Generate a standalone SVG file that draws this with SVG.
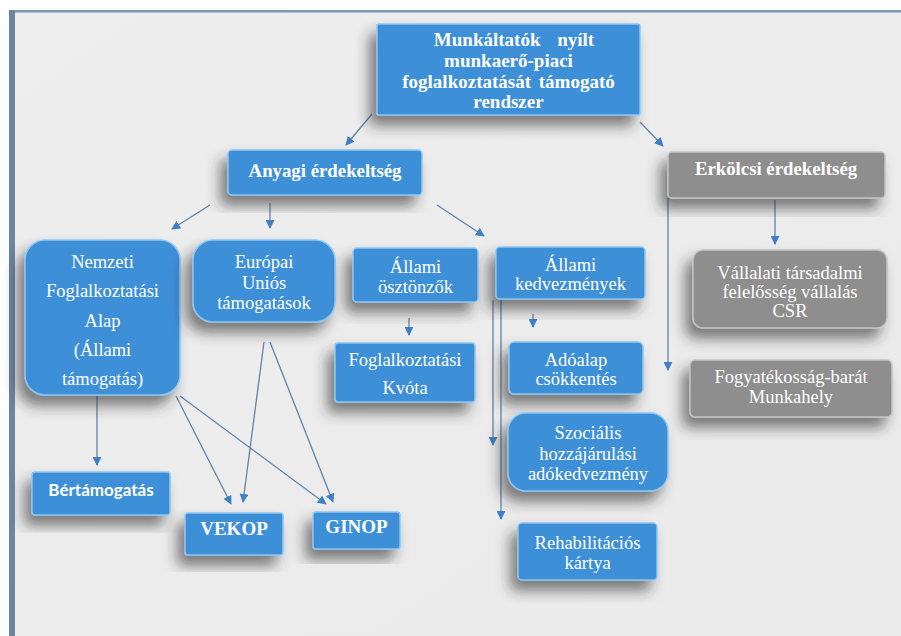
<svg xmlns="http://www.w3.org/2000/svg" width="901" height="636" viewBox="0 0 901 636">
<defs>
<filter id="sh" x="-30%" y="-30%" width="160%" height="170%">
<feDropShadow dx="-7" dy="10" stdDeviation="7" flood-color="#2a2a2a" flood-opacity="0.6"/>
</filter>
<marker id="ah" viewBox="0 0 10 10" refX="9" refY="5" markerWidth="9" markerHeight="9" markerUnits="userSpaceOnUse" orient="auto">
<path d="M0,0 L10,5 L0,10 Z" fill="#3e7fc6"/>
</marker>
<linearGradient id="bg" x1="0" y1="0" x2="1" y2="1">
<stop offset="0" stop-color="#eeeeee"/>
<stop offset="1" stop-color="#eaeaeb"/>
</linearGradient>
</defs>
<style>
.b{fill:#3e8fd8;stroke:#8ec6f2;stroke-width:1.5;filter:url(#sh)}
.g{fill:#8e8e8e;stroke:#c4c4c4;stroke-width:1.5;filter:url(#sh)}
.t{font-family:"Liberation Serif","Times New Roman",serif;fill:#ffffff;text-anchor:middle;font-size:18.5px}
.tb{font-weight:bold}
.s{font-family:Lato,"Liberation Sans",sans-serif;font-weight:bold;fill:#ffffff;text-anchor:middle;font-size:17px}
.c{fill:none;stroke:#6283a8;stroke-width:1.3;marker-end:url(#ah)}
</style>
<rect x="0" y="0" width="901" height="636" fill="#ffffff"/>
<rect x="9" y="10" width="892" height="626" fill="url(#bg)"/>
<rect x="9" y="10" width="892" height="2.5" fill="#7b98b4"/>
<rect x="9" y="10" width="6" height="626" fill="#6c86a2"/>

<g id="connectors">
<line class="c" x1="372" y1="114" x2="346" y2="145"/>
<line class="c" x1="640" y1="122" x2="663" y2="146"/>
<line class="c" x1="210" y1="205" x2="172" y2="229"/>
<line class="c" x1="270" y1="203" x2="270" y2="228"/>
<line class="c" x1="437" y1="205" x2="484" y2="236"/>
<line class="c" x1="409" y1="318" x2="409" y2="335"/>
<line class="c" x1="533" y1="314" x2="533" y2="327"/>
<line class="c" x1="493" y1="300" x2="493" y2="445"/>
<line class="c" x1="501" y1="300" x2="501" y2="519"/>
<line class="c" x1="775" y1="200" x2="775" y2="244"/>
<line class="c" x1="668" y1="198" x2="668" y2="370"/>
<line class="c" x1="97" y1="396" x2="97" y2="465"/>
<line class="c" x1="176" y1="396" x2="231" y2="504"/>
<line class="c" x1="180" y1="396" x2="326" y2="504"/>
<line class="c" x1="264" y1="342" x2="243" y2="502"/>
<line class="c" x1="270" y1="342" x2="333" y2="502"/>
</g>

<g id="n-top"><rect class="b" x="377" y="24" width="263" height="91" rx="2"/>
<text class="t tb" x="514" y="46" style="font-size:19px;word-spacing:12px">Munkáltatók nyílt</text>
<text class="t tb" x="508.5" y="67" style="font-size:19px">munkaerő-piaci</text>
<text class="t tb" x="508.5" y="88" style="font-size:19px;word-spacing:3px">foglalkoztatását támogató</text>
<text class="t tb" x="508.5" y="108" style="font-size:19px">rendszer</text></g>

<g id="n-anyagi"><rect class="b" x="228" y="150" width="194" height="45" rx="4"/>
<text class="t tb" x="325" y="177" style="font-size:18.8px">Anyagi érdekeltség</text></g>

<g id="n-erkolcsi"><rect class="g" x="668" y="152" width="217" height="46" rx="4"/>
<text class="t tb" x="776" y="175" style="font-size:18.8px">Erkölcsi érdekeltség</text></g>

<g id="n-nemzeti"><rect class="b" x="25" y="240" width="155" height="155" rx="20"/>
<text class="t" x="102.5" y="268">Nemzeti</text>
<text class="t" x="102.5" y="297">Foglalkoztatási</text>
<text class="t" x="102.5" y="327">Alap</text>
<text class="t" x="102.5" y="356">(Állami</text>
<text class="t" x="102.5" y="385">támogatás)</text></g>

<g id="n-europai"><rect class="b" x="193" y="240" width="142" height="82" rx="20"/>
<text class="t" x="264" y="268">Európai</text>
<text class="t" x="264" y="289">Uniós</text>
<text class="t" x="264" y="309">támogatások</text></g>

<g id="n-osztonzok"><rect class="b" x="353" y="248" width="125" height="54" rx="4"/>
<text class="t" x="415.5" y="273">Állami</text>
<text class="t" x="415.5" y="293">ösztönzők</text></g>

<g id="n-kvota"><rect class="b" x="335" y="343" width="140" height="59" rx="3"/>
<text class="t" x="405" y="366">Foglalkoztatási</text>
<text class="t" x="405" y="394">Kvóta</text></g>

<g id="n-kedvezmenyek"><rect class="b" x="496" y="247" width="149" height="52" rx="4"/>
<text class="t" x="570.5" y="271">Állami</text>
<text class="t" x="570.5" y="290">kedvezmények</text></g>

<g id="n-adoalap"><rect class="b" x="509" y="342" width="134" height="52" rx="5"/>
<text class="t" x="576" y="366">Adóalap</text>
<text class="t" x="576" y="385">csökkentés</text></g>

<g id="n-szocialis"><rect class="b" x="508" y="413" width="160" height="78" rx="18"/>
<text class="t" x="588" y="439">Szociális</text>
<text class="t" x="588" y="460">hozzájárulási</text>
<text class="t" x="588" y="480">adókedvezmény</text></g>

<g id="n-rehab"><rect class="b" x="518" y="523" width="139" height="57" rx="4"/>
<text class="t" x="587.5" y="549">Rehabilitációs</text>
<text class="t" x="587.5" y="569">kártya</text></g>

<g id="n-csr"><rect class="g" x="693" y="250" width="194" height="78" rx="10"/>
<text class="t" x="790" y="279">Vállalati társadalmi</text>
<text class="t" x="790" y="298">felelősség vállalás</text>
<text class="t" x="790" y="317">CSR</text></g>

<g id="n-fogyatekossag"><rect class="g" x="690" y="360" width="202" height="57" rx="5"/>
<text class="t" x="791" y="383">Fogyatékosság-barát</text>
<text class="t" x="791" y="403">Munkahely</text></g>

<g id="n-bertamogatas"><rect class="b" x="32" y="472" width="138" height="43" rx="3"/>
<text class="s" x="101" y="496">Bértámogatás</text></g>

<g id="n-vekop"><rect class="b" x="185" y="513" width="98" height="42" rx="3"/>
<text class="t tb" x="234" y="535" style="font-size:19px">VEKOP</text></g>

<g id="n-ginop"><rect class="b" x="313" y="512" width="87" height="37" rx="3"/>
<text class="t tb" x="356.5" y="533" style="font-size:19px">GINOP</text></g>
</svg>
